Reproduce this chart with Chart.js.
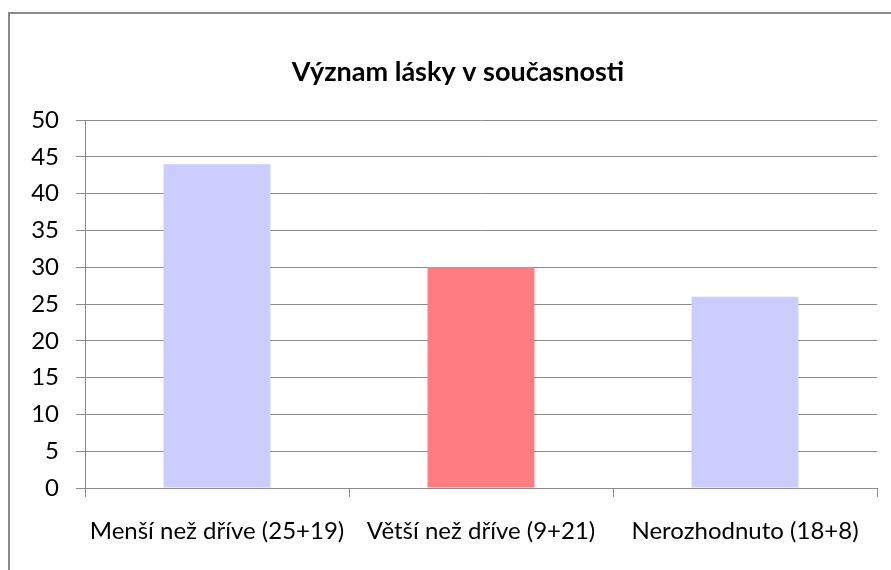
<!DOCTYPE html>
<html>
<head>
<meta charset="utf-8">
<script src="https://cdn.jsdelivr.net/npm/chart.js@4"></script>
<style>
    html, body { margin: 0; padding: 0; background: #fff; overflow: hidden; }
    #wrap { position: relative; width: 891px; height: 570px; }
    #frame {
        position: absolute; left: 8px; top: 12px;
        width: 1000px; height: 1000px;
        border-top: 2px solid #8a8a8a;
        border-left: 2px solid #8a8a8a;
    }
    canvas { position: absolute; left: 0; top: 0; }
</style>
</head>
<body>
<div id="wrap">
    <div id="frame"></div>
    <canvas id="chart" width="891" height="570"></canvas>
</div>
<script>
// Données du graphique
const categories = ['Menší než dříve (25+19)', 'Větší než dříve (9+21)', 'Nerozhodnuto (18+8)'];
const values = [44, 30, 26];
const barColors = ['#CCCCFF', '#FF7C80', '#CCCCFF'];
const chartTitle = 'Význam lásky v současnosti';
const yMax = 50;
const yStep = 5;

const fontFamily = "Lato, 'Open Sans', sans-serif";
const lineColor = '#8c8c8c';

// Titre dessiné un peu à droite du centre, comme dans l'original
const titrePlugin = {
    id: 'titreDecale',
    afterDraw(chart) {
        const ctx = chart.ctx;
        ctx.save();
        ctx.font = "bold 27px " + fontFamily;
        ctx.fillStyle = '#000';
        ctx.textAlign = 'center';
        ctx.textBaseline = 'middle';
        ctx.fillText(chartTitle, 458, 72);
        ctx.restore();
    }
};

new Chart(document.getElementById('chart'), {
    type: 'bar',
    data: {
        labels: categories,
        datasets: [{
            data: values,
            backgroundColor: barColors,
            borderWidth: 0,
            categoryPercentage: 1,
            barPercentage: 0.405
        }]
    },
    plugins: [titrePlugin],
    options: {
        responsive: false,
        animation: false,
        layout: { padding: { left: 10, right: 14, top: 120, bottom: 0 } },
        plugins: {
            legend: { display: false },
            tooltip: { enabled: false },
            title: { display: false }
        },
        scales: {
            x: {
                afterFit: scale => { scale.height = 82; },
                grid: {
                    display: true,
                    offset: true,
                    drawOnChartArea: false,
                    tickLength: 9,
                    color: lineColor
                },
                border: { color: lineColor, width: 1 },
                ticks: {
                    color: '#000',
                    padding: 20,
                    font: { family: fontFamily, size: 24 }
                }
            },
            y: {
                min: 0,
                max: yMax,
                afterFit: scale => { scale.width = 75; },
                grid: { color: lineColor, tickLength: 9 },
                border: { color: lineColor, width: 1 },
                ticks: {
                    stepSize: yStep,
                    color: '#000',
                    padding: 17,
                    font: { family: fontFamily, size: 24 }
                }
            }
        }
    }
});
</script>
</body>
</html>
